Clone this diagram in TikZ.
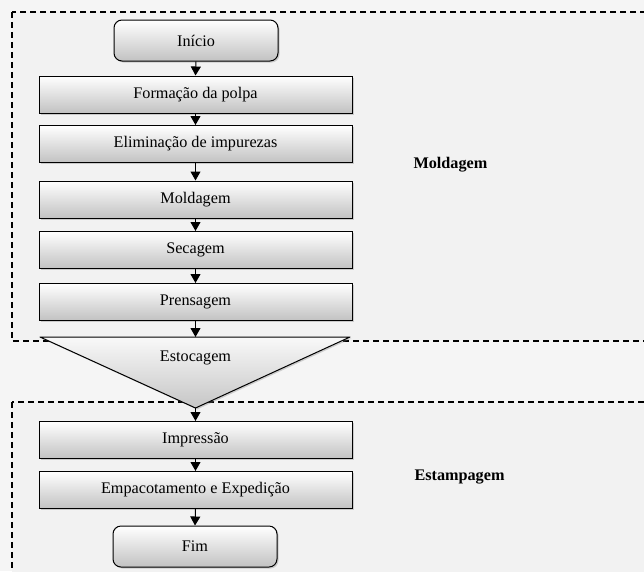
\documentclass[tikz,border=0pt]{standalone}
\usepackage{fontspec}
\setmainfont{Liberation Serif}
\usetikzlibrary{arrows.meta,shadows}

\tikzset{
  etapa/.style={draw, line width=1pt, minimum width=313pt, minimum height=37pt,
    top color=white, bottom color=gray!48, inner sep=0pt,
    drop shadow={shadow xshift=1.5pt, shadow yshift=-1.5pt, opacity=0.35},
    font=\fontsize{16.2}{19}\selectfont},
  terminal/.style={etapa, rounded corners=8pt, minimum width=164pt, minimum height=41pt},
  seta/.style={-{Triangle[length=9pt,width=10pt]}, line width=1pt},
  grupo/.style={line width=1.1pt, dash pattern=on 6pt off 4pt, fill=gray!10},
  rotulo/.style={font=\fontsize{16.2}{19}\selectfont\bfseries, anchor=west}
}

\begin{document}
\begin{tikzpicture}[x=1pt, y=-1pt]
\clip (0,0) rectangle (644,571);
\fill[gray!8] (0,0) rectangle (644,571);

% Grupos
\draw[grupo] (12,12) rectangle (660,341);
\draw[grupo] (12,402) rectangle (660,590);
\node[rotulo] (moldagemRot) at (410,165) {Moldagem};
\node[rotulo] (estampagemRot) at (411,477) {Estampagem};

% Etapas
\node[terminal] (inicio) at (196,40.5) {Início};
\node[etapa] (formacao) at (195.5,94.5) {Formação da polpa};
\node[etapa] (eliminacao) at (195.5,144) {Eliminação de impurezas};
\node[etapa] (moldagem) at (195.5,199.5) {Moldagem};
\node[etapa] (secagem) at (195.5,250) {Secagem};
\node[etapa] (prensagem) at (195.5,302) {Prensagem};

% Estocagem
\coordinate (estA) at (40,337);
\coordinate (estB) at (350,337);
\coordinate (estC) at (195.5,408);
\shade[top color=gray!5, bottom color=gray!45, draw, line width=1pt, line join=round,
  drop shadow={shadow xshift=1.5pt, shadow yshift=-1.5pt, opacity=0.35}]
  (estA) -- (estB) -- (estC) -- cycle;
\node[font=\fontsize{16.2}{19}\selectfont] (estocagem) at (195.5,358) {Estocagem};
\coordinate (estTopo) at (195.5,337);

\node[etapa] (impressao) at (195.5,440) {Impressão};
\node[etapa] (empacotamento) at (195.5,490) {Empacotamento e Expedição};
\node[terminal] (fim) at (195,546.5) {Fim};

% Setas
\draw[seta] (inicio.south) -- (formacao.north);
\draw[seta] (formacao.south) -- (eliminacao.north);
\draw[seta] (eliminacao.south) -- (moldagem.north);
\draw[seta] (moldagem.south) -- (secagem.north);
\draw[seta] (secagem.south) -- (prensagem.north);
\draw[seta] (prensagem.south) -- (estTopo);
\draw[seta] (estC) -- (impressao.north);
\draw[seta] (impressao.south) -- (empacotamento.north);
\draw[seta] (empacotamento.south) -- (fim.north);
\end{tikzpicture}
\end{document}
